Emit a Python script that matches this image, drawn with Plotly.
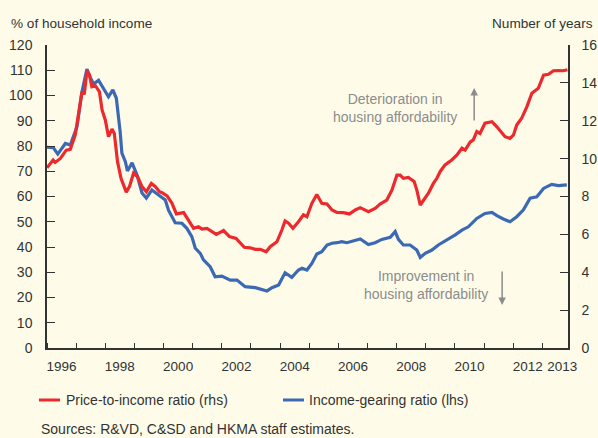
import plotly.graph_objects as go

# Income-gearing ratio (lhs, % of household income)
gear_t = [1996.00, 1996.22, 1996.37, 1996.63, 1996.80, 1997.03, 1997.20, 1997.37, 1997.49, 1997.60,
          1997.77, 1997.94, 1998.11, 1998.26, 1998.38, 1998.51, 1998.57, 1998.69, 1998.76, 1998.92,
          1999.09, 1999.26, 1999.41, 1999.60, 1999.83, 2000.06, 2000.17, 2000.40, 2000.63, 2000.80,
          2000.97, 2001.09, 2001.26, 2001.37, 2001.60, 2001.77, 2002.00, 2002.29, 2002.52, 2002.80,
          2003.15, 2003.38, 2003.55, 2003.72, 2003.95, 2004.17, 2004.40, 2004.63, 2004.75, 2004.92,
          2005.09, 2005.26, 2005.43, 2005.61, 2005.78, 2005.95, 2006.12, 2006.29, 2006.52, 2006.75,
          2007.03, 2007.26, 2007.49, 2007.78, 2007.95, 2008.06, 2008.23, 2008.46, 2008.69, 2008.81,
          2008.98, 2009.21, 2009.43, 2009.70, 2010.01, 2010.24, 2010.46, 2010.75, 2010.86, 2011.03,
          2011.27, 2011.44, 2011.66, 2011.89, 2012.12, 2012.35, 2012.58, 2012.81, 2013.04, 2013.32,
          2013.55, 2013.84]
gear_v = [79.5, 79.3, 76.8, 81.0, 80.4, 87.7, 101.5, 110.5, 107.0, 104.6,
          106.0, 102.8, 99.5, 102.2, 98.9, 85.7, 77.2, 73.8, 70.1, 73.3,
          68.5, 61.4, 59.4, 62.6, 60.4, 58.6, 54.6, 49.6, 49.4, 47.4,
          44.1, 39.5, 37.5, 34.9, 32.2, 28.2, 28.5, 26.9, 26.9, 24.3,
          23.9, 23.2, 22.6, 23.9, 25.0, 29.8, 28.0, 30.9, 31.6, 30.9,
          33.5, 37.2, 38.1, 40.8, 41.5, 41.7, 42.1, 41.7, 42.4, 43.2,
          41.0, 41.7, 43.0, 43.8, 46.1, 43.0, 40.8, 40.8, 38.8, 35.9,
          37.5, 38.8, 40.8, 42.5, 44.8, 46.7, 48.0, 51.3, 52.0, 53.3,
          53.7, 52.4, 51.1, 50.0, 52.0, 54.7, 59.3, 59.9, 63.2, 64.8,
          64.3, 64.6]

# Price-to-income ratio (rhs, number of years)
pti_t = [1996.00, 1996.21, 1996.28, 1996.46, 1996.66, 1996.80, 1996.97, 1997.08, 1997.20, 1997.28,
         1997.37, 1997.46, 1997.54, 1997.66, 1997.80, 1997.89, 1998.00, 1998.11, 1998.23, 1998.31,
         1998.42, 1998.54, 1998.63, 1998.72, 1998.83, 1998.97, 1999.11, 1999.26, 1999.41, 1999.58,
         1999.72, 1999.86, 1999.95, 2000.12, 2000.29, 2000.44, 2000.69, 2000.86, 2001.03, 2001.20,
         2001.32, 2001.49, 2001.66, 2001.81, 2002.06, 2002.26, 2002.49, 2002.63, 2002.77, 2002.97,
         2003.15, 2003.32, 2003.52, 2003.66, 2003.89, 2004.06, 2004.17, 2004.29, 2004.44, 2004.63,
         2004.80, 2004.92, 2005.09, 2005.26, 2005.43, 2005.61, 2005.78, 2005.95, 2006.17, 2006.38,
         2006.58, 2006.75, 2007.03, 2007.26, 2007.43, 2007.66, 2007.84, 2008.01, 2008.12, 2008.23,
         2008.40, 2008.60, 2008.69, 2008.81, 2008.92, 2009.09, 2009.26, 2009.38, 2009.49, 2009.66,
         2009.89, 2010.07, 2010.24, 2010.35, 2010.52, 2010.63, 2010.75, 2010.86, 2011.03, 2011.27,
         2011.44, 2011.61, 2011.72, 2011.89, 2012.01, 2012.12, 2012.29, 2012.47, 2012.64, 2012.86,
         2013.04, 2013.21, 2013.38, 2013.55, 2013.72, 2013.86]
pti_v = [9.52, 9.93, 9.80, 10.01, 10.45, 10.49, 11.25, 12.31, 13.53, 13.40,
         14.63, 14.41, 13.80, 13.85, 13.53, 12.57, 12.04, 11.16, 11.56, 11.33,
         9.84, 8.96, 8.61, 8.23, 8.52, 9.23, 9.04, 8.52, 8.25, 8.69,
         8.52, 8.25, 8.20, 8.03, 7.64, 7.08, 7.15, 6.76, 6.32, 6.40,
         6.28, 6.32, 6.15, 6.00, 6.20, 5.88, 5.79, 5.53, 5.32, 5.29,
         5.21, 5.21, 5.08, 5.35, 5.61, 6.23, 6.71, 6.59, 6.32, 6.67,
         7.03, 6.93, 7.64, 8.11, 7.64, 7.60, 7.29, 7.16, 7.15, 7.08,
         7.29, 7.41, 7.20, 7.37, 7.60, 7.81, 8.35, 9.13, 9.13, 8.96,
         9.01, 8.79, 8.35, 7.55, 7.81, 8.17, 8.69, 8.96, 9.31, 9.67,
         9.93, 10.19, 10.55, 10.45, 10.87, 10.99, 11.43, 11.33, 11.87, 11.95,
         11.68, 11.33, 11.16, 11.07, 11.25, 11.77, 12.13, 12.75, 13.45, 13.71,
         14.41, 14.45, 14.64, 14.65, 14.64, 14.69]

year_ticks = list(range(1996, 2014))
label_pos = [1996.5, 1998.5, 2000.5, 2002.5, 2004.5, 2006.5, 2008.5, 2010.5, 2012.5, 2013.68]
label_txt = ["1996", "1998", "2000", "2002", "2004", "2006", "2008", "2010", "2012", "2013"]
left_ticks = list(range(0, 121, 10))
right_ticks = list(range(0, 17, 2))
series_names = ["Price-to-income ratio (rhs)", "Income-gearing ratio (lhs)"]

RED = "#EC2A2E"
BLUE = "#3B69B4"
AXIS = "#333333"
GREY = "#8C8C8C"
BG = "#FEFCE9"
FONT = "Liberation Sans, Arial, sans-serif"

W, H = 598, 438
ML, MR, MT, MB = 47, 30, 45, 90
PW, PH = W - ML - MR, H - MT - MB


def px(xp):
    return (xp - ML) / PW


def py(yp):
    return (H - MB - yp) / PH


fig = go.Figure()
fig.add_trace(go.Scatter(x=gear_t, y=gear_v, yaxis="y", mode="lines",
                         line=dict(color=BLUE, width=3.2), name=series_names[1]))
fig.add_trace(go.Scatter(x=pti_t, y=pti_v, yaxis="y2", mode="lines",
                         line=dict(color=RED, width=3.2), name=series_names[0]))

fig.update_layout(
    width=W, height=H,
    paper_bgcolor=BG, plot_bgcolor=BG,
    margin=dict(l=ML, r=MR, t=MT, b=MB, autoexpand=False),
    font=dict(family=FONT, size=13, color=AXIS),
    showlegend=False,
    xaxis=dict(range=[1996, 2013.88], showgrid=False, zeroline=False,
               showline=True, linecolor=AXIS, linewidth=1.5,
               tickmode="array", tickvals=label_pos, ticktext=label_txt, ticks="",
               ticklabelstandoff=5, tickfont=dict(size=13.5),
               minor=dict(tickmode="array", tickvals=year_ticks, ticks="inside",
                          ticklen=5, tickcolor=AXIS, tickwidth=1.2, showgrid=False)),
    yaxis=dict(range=[0, 120], showgrid=False, zeroline=False,
               showline=True, linecolor=AXIS, linewidth=1.5,
               tickmode="array", tickvals=left_ticks, ticks="inside", ticklen=8,
               tickcolor=AXIS, tickwidth=1.2, ticklabelstandoff=10, tickfont=dict(size=14)),
    yaxis2=dict(range=[0, 16], overlaying="y", side="right", showgrid=False, zeroline=False,
                showline=True, linecolor=AXIS, linewidth=1.5,
                tickmode="array", tickvals=right_ticks, ticks="inside", ticklen=8,
                tickcolor=AXIS, tickwidth=1.2, ticklabelstandoff=9, tickfont=dict(size=14)),
)

shapes = [
    dict(type="line", xref="paper", yref="paper", x0=px(39), x1=px(60), y0=py(400), y1=py(400),
         line=dict(color=RED, width=3)),
    dict(type="line", xref="paper", yref="paper", x0=px(283), x1=px(304), y0=py(400), y1=py(400),
         line=dict(color=BLUE, width=3)),
]

annos = [
    dict(text="% of household income", xref="paper", yref="paper", x=px(9), y=py(24),
         xanchor="left", yanchor="middle", showarrow=False, font=dict(size=13.6, color=AXIS)),
    dict(text="Number of years", xref="paper", yref="paper", x=px(595), y=py(24),
         xanchor="right", yanchor="middle", showarrow=False, font=dict(size=13.6, color=AXIS)),
    dict(text="Deterioration in<br>housing affordability", xref="x", yref="y", x=2007.95, y=95,
         showarrow=False, font=dict(size=14, color=GREY)),
    dict(text="Improvement in<br>housing affordability", xref="x", yref="y", x=2009.01, y=24.8,
         showarrow=False, font=dict(size=14, color=GREY)),
    dict(text="", xref="x", yref="y", x=2010.66, y=103, ax=0, ay=34, showarrow=True,
         arrowhead=2, arrowsize=1, arrowwidth=1.5, arrowcolor=GREY),
    dict(text="", xref="x", yref="y", x=2011.62, y=17, ax=0, ay=-35, showarrow=True,
         arrowhead=2, arrowsize=1, arrowwidth=1.5, arrowcolor=GREY),
    dict(text=series_names[0], xref="paper", yref="paper", x=px(64), y=py(400),
         xanchor="left", yanchor="middle", showarrow=False, font=dict(size=14, color=AXIS)),
    dict(text=series_names[1], xref="paper", yref="paper", x=px(307), y=py(400),
         xanchor="left", yanchor="middle", showarrow=False, font=dict(size=14, color=AXIS)),
    dict(text="Sources: R&VD, C&SD and HKMA staff estimates.", xref="paper", yref="paper",
         x=px(39), y=py(429), xanchor="left", yanchor="middle", showarrow=False,
         font=dict(size=14, color=AXIS)),
]
fig.update_layout(annotations=annos, shapes=shapes)

fig.write_html("out.html", config={"displayModeBar": False},
               post_script="document.body.style.margin='0';document.body.style.overflow='hidden';")
